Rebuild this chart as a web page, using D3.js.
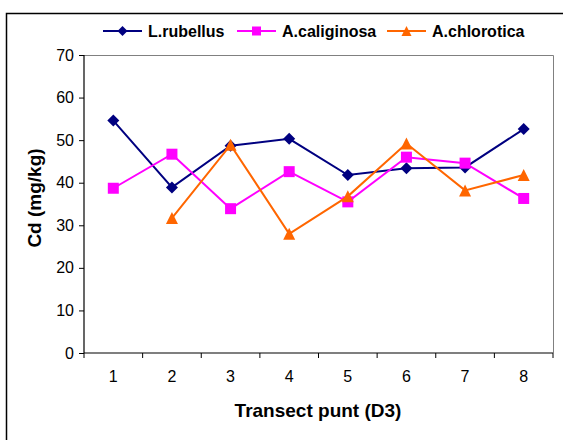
<!DOCTYPE html>
<html><head><meta charset="utf-8">
<script src="https://cdn.jsdelivr.net/npm/d3@7"></script>
<style>body{margin:0;background:#fff}svg{display:block}text{font-family:Arial,"Liberation Sans",sans-serif}</style>
</head><body><svg id="c" width="563" height="440"></svg>
<script>
const categories = ["1","2","3","4","5","6","7","8"];
const yTicks = [0,10,20,30,40,50,60,70];
const seriesNames = ["L.rubellus","A.caliginosa","A.chlorotica"];
const rubellus = [54.6,38.9,48.7,50.3,41.8,43.4,43.6,52.6];
const caliginosa = [38.7,46.7,33.9,42.6,35.5,46.0,44.6,36.3];
const chlorotica = [null,31.7,48.9,28.0,36.8,49.2,38.2,41.8];
const colors = ["#000080","#FF00FF","#FF6600"];

// marker shapes (Excel-like): diamond, square, triangle
const markerPath = [
  r => `M0,${-r}L${r},0L0,${r}L${-r},0Z`,
  r => `M${-r},${-r}H${r}V${r}H${-r}Z`,
  r => `M0,${-r}L${r},${r}H${-r}Z`
];
const markerR = [6, 5.5, 6];

const svg = d3.select("#c");
const L = 84, R = 553, T = 55, B = 353;
// outer chart border (top + left visible)
svg.append("rect").attr("x",6.5).attr("y",13.5).attr("width",600).attr("height",500)
  .attr("fill","none").attr("stroke","#000").attr("stroke-width",1.5);

const x = d3.scaleBand().domain(categories).range([L,R]);
const y = d3.scaleLinear().domain([0,70]).range([B,T]);

// plot area border (gray top/right)
svg.append("path").attr("d",`M${L},${T+0.5}H${R+0.5}V${B}`).attr("fill","none").attr("stroke","#808080").attr("stroke-width",1);

// y axis
const ya = svg.append("g").attr("transform",`translate(${L},0)`)
  .call(d3.axisLeft(y).tickValues(yTicks).tickSize(5).tickPadding(5).tickFormat(d3.format("d")));
ya.select(".domain").attr("stroke","#000").attr("stroke-width",1.2).attr("d",`M0,${T}V${B}`);
ya.selectAll("text").attr("font-size",16).attr("fill","#000");

// x axis
const xa = svg.append("g").attr("transform",`translate(0,${B})`)
  .call(d3.axisBottom(x).tickSize(0).tickPadding(18));
xa.select(".domain").attr("stroke","#000").attr("stroke-width",1.2).attr("d",`M${L},0H${R}`);
xa.selectAll("text").attr("font-size",16).attr("fill","#000");
// tick marks between categories
const bounds = categories.map((c)=>x(c)).concat([R]);
xa.selectAll(".sep").data(bounds).enter().append("line").attr("class","sep")
  .attr("x1",d=>d).attr("x2",d=>d).attr("y1",0).attr("y2",5).attr("stroke","#000");

// axis titles
svg.append("text").attr("x",(L+R)/2 - 0.5).attr("y",417).attr("text-anchor","middle")
  .attr("font-size",19).attr("font-weight","bold").text("Transect punt (D3)");
svg.append("text").attr("transform",`translate(41,198) rotate(-90)`).attr("text-anchor","middle")
  .attr("font-size",19).attr("font-weight","bold").text("Cd (mg/kg)");

const allData = [rubellus, caliginosa, chlorotica];
const cx = c => x(c) + x.bandwidth()/2;
allData.forEach((vals,i)=>{
  const pts = categories.map((c,j)=>({c, v: vals[j]})).filter(d=>d.v!=null);
  const line = d3.line().x(d=>cx(d.c)).y(d=>y(d.v));
  svg.append("path").attr("d",line(pts)).attr("fill","none").attr("stroke",colors[i]).attr("stroke-width",2);
  svg.selectAll(null).data(pts).enter().append("path")
    .attr("d",markerPath[i](markerR[i]))
    .attr("transform",d=>`translate(${cx(d.c)},${y(d.v)})`)
    .attr("fill",colors[i]);
});

// legend
const legX = [103,237,387];
const legY = 31;
seriesNames.forEach((n,i)=>{
  const g = svg.append("g");
  g.append("line").attr("x1",legX[i]).attr("x2",legX[i]+39).attr("y1",legY).attr("y2",legY)
    .attr("stroke",colors[i]).attr("stroke-width",2);
  g.append("path").attr("d",markerPath[i](markerR[i]-1))
    .attr("transform",`translate(${legX[i]+19.5},${legY})`).attr("fill",colors[i]);
  g.append("text").attr("x",legX[i]+45).attr("y",legY+6).attr("font-size",16).attr("font-weight","bold").text(n);
});
</script></body></html>
